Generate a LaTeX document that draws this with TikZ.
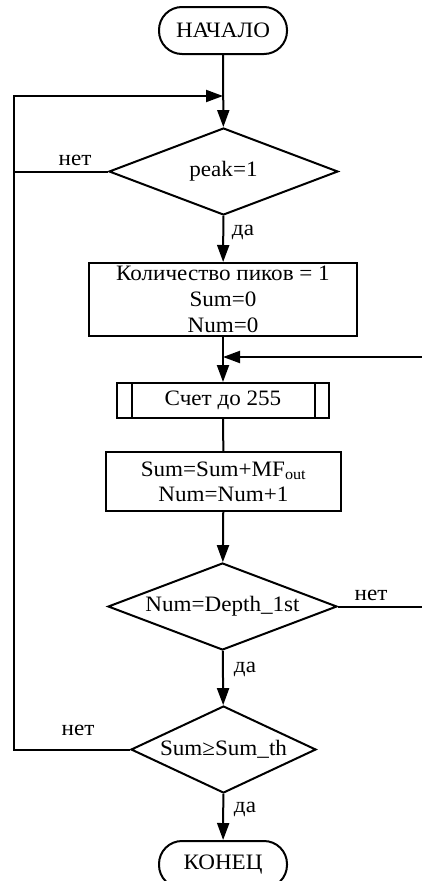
\documentclass[tikz,border=0pt]{standalone}
\usepackage{fontspec}
\setmainfont{Liberation Serif}[FakeStretch=1.05]
\usetikzlibrary{arrows.meta,shapes.geometric}
\begin{document}
\begin{tikzpicture}[x=1pt,y=-1pt,
  every node/.style={font=\fontsize{22}{26}\selectfont},
  ln/.style={line width=2pt},
  arr/.style={ln,-{Triangle[length=17pt,width=12pt]}},
  term/.style={draw,ln,rectangle,rounded corners=23pt,minimum width=128pt,minimum height=47pt,inner sep=0pt},
  proc/.style={draw,ln,rectangle,inner sep=0pt,align=center},
  dec/.style={draw,ln,diamond,inner sep=0pt,minimum height=87pt},
  lbl/.style={inner sep=0pt}
]
\clip (0,0) rectangle (422,881);
\fill[white] (0,0) rectangle (422,881);

\node[term] (start) at (223,30.5) {НАЧАЛО};
\node[dec,minimum width=229pt] (d1) at (223.5,171.5) {\makebox[0pt]{peak=1}};
\node[proc,minimum width=268pt,minimum height=73pt] (b1) at (223,299.5)
  {Количество пиков = 1\\Sum=0\\Num=0};
\node[proc,minimum width=212pt,minimum height=35pt] (b2) at (223,400.5) {Счет до 255};
\draw[ln] ([xshift=16pt]b2.north west) -- ([xshift=16pt]b2.south west);
\draw[ln] ([xshift=-15pt]b2.north east) -- ([xshift=-15pt]b2.south east);
\node[proc,minimum width=235pt,minimum height=59pt,font=\fontsize{22}{25}\selectfont] (b3) at (223.5,481.5)
  {Sum=Sum+MF\textsubscript{out}\\Num=Num+1};
\node[dec,minimum width=229pt] (d2) at (222.5,606.5) {\makebox[0pt]{Num=Depth\_1st}};
\node[dec,minimum width=185pt] (d3) at (223.5,749.5) {\makebox[0pt]{Sum≥Sum\_th}};
\node[term] (end) at (223,864.5) {КОНЕЦ};

\coordinate (j1) at (223,96);
\coordinate (j2) at (223,357);

\draw[arr] (start) -- (d1);
\draw[arr] (d1) -- (b1);
\draw[arr] (b1) -- (b2);
\draw[ln] (b2) -- (b3);
\draw[arr] (b3) -- (d2);
\draw[arr] (d2) -- (d3);
\draw[arr] (d3) -- (end);

\draw[ln] (d1.west) -- (14,171.5);
\draw[arr] (d3.west) -- (14,749.5) -- (14,96) -- (j1);
\draw[arr] (d2.east) -- (428,606.5) -- (428,357) -- (j2);

\node[lbl] (n1) at (75,160) {нет};
\node[lbl] (y1) at (243,232) {да};
\node[lbl] (n2) at (371,595) {нет};
\node[lbl] (y2) at (245,669) {да};
\node[lbl] (n3) at (78,730) {нет};
\node[lbl] (y3) at (245,809) {да};
\end{tikzpicture}
\end{document}
